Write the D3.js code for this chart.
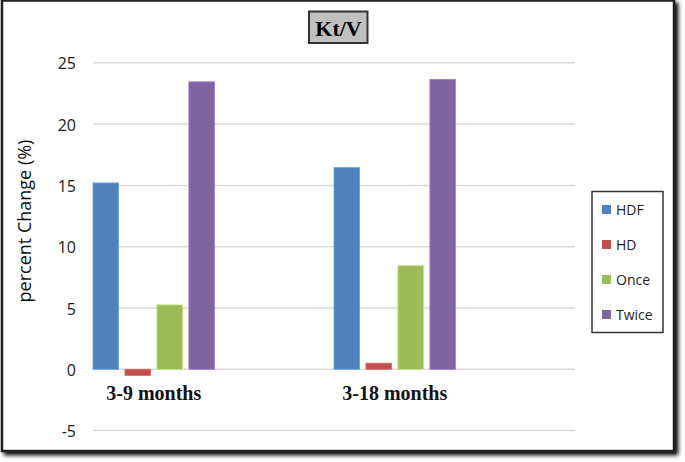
<!DOCTYPE html>
<html>
<head>
<meta charset="utf-8">
<script src="https://cdn.jsdelivr.net/npm/d3@7"></script>
<style>
  body { margin: 0; background: #fff; }
  svg { display: block; }
</style>
</head>
<body>
<svg id="chart" width="685" height="462"></svg>
<script>
// data
const categories = ['3-9 months', '3-18 months']
const seriesNames = ['HDF', 'HD', 'Once', 'Twice']
const hdf = [15.2, 16.45]
const hd = [-0.5, 0.5]
const once = [5.25, 8.45]
const twice = [23.45, 23.65]
const yTicks = [-5, 0, 5, 10, 15, 20, 25]
const colors = ['#4f81bd', '#c0504d', '#9bbb59', '#8064a2']

const seriesValues = [hdf, hd, once, twice]
const rows = categories.map((c, i) => ({
  cat: c,
  values: seriesNames.map((s, j) => ({ key: s, value: seriesValues[j][i] }))
}))

const svg = d3.select('#chart')

// outer frame with soft shadow
const defs = svg.append('defs')
const f = defs.append('filter').attr('id', 'shadow')
  .attr('x', '-5%').attr('y', '-5%').attr('width', '115%').attr('height', '115%')
f.append('feGaussianBlur').attr('in', 'SourceAlpha').attr('stdDeviation', 2)
f.append('feOffset').attr('dx', 3).attr('dy', 3).attr('result', 'b')
const m = f.append('feMerge')
m.append('feMergeNode').attr('in', 'b')
m.append('feMergeNode').attr('in', 'SourceGraphic')

svg.append('rect')
  .attr('x', 2).attr('y', 0.5).attr('width', 672).attr('height', 450.5)
  .attr('fill', '#fff').attr('stroke', '#22221a').attr('stroke-width', 2.5)
  .attr('filter', 'url(#shadow)')

const margin = { left: 93, right: 575 }

const y = d3.scaleLinear()
  .domain([-5, 25])
  .range([430.6, 62.8])

const x = d3.scaleBand()
  .domain(categories)
  .range([margin.left, margin.right])
  .padding(0)

const xs = d3.scaleBand()
  .domain(seriesNames)
  .range([0, x.bandwidth() * 0.504])
  .paddingInner(0.2)
  .paddingOuter(0)

const color = d3.scaleOrdinal().domain(seriesNames).range(colors)

// gridlines
svg.append('g')
  .selectAll('line')
  .data(yTicks)
  .enter()
  .append('line')
  .attr('x1', margin.left)
  .attr('x2', margin.right)
  .attr('y1', d => y(d))
  .attr('y2', d => y(d))
  .attr('stroke', '#d9d9d9')
  .attr('stroke-width', 1.5)

// y axis labels (plain hyphen for negatives, like the original)
const yAxis = svg.append('g')
  .attr('transform', 'translate(80,1)')
  .call(d3.axisLeft(y).tickValues(yTicks).tickSize(0).tickPadding(4)
    .tickFormat(d => String(d)))
yAxis.select('.domain').remove()
yAxis.selectAll('text')
  .attr('font-family', 'Open Sans, sans-serif')
  .attr('font-size', 16)
  .attr('fill', '#1a1a1a')

// bars
svg.append('g')
  .selectAll('g')
  .data(rows)
  .enter()
  .append('g')
  .attr('transform', d => 'translate(' + x(d.cat) + ',0)')
  .selectAll('rect')
  .data(d => d.values)
  .enter()
  .append('rect')
  .attr('x', d => xs(d.key))
  .attr('width', xs.bandwidth())
  .attr('y', d => y(Math.max(0, d.value)))
  .attr('height', d => Math.abs(y(d.value) - y(0)))
  .attr('fill', d => color(d.key))
  .attr('stroke', d => d3.color(color(d.key)).brighter(0.6))
  .attr('stroke-width', 0.8)

// category labels
svg.append('g')
  .selectAll('text')
  .data(categories)
  .enter()
  .append('text')
  .attr('x', d => x(d) + xs.range()[1] / 2)
  .attr('y', 400)
  .attr('text-anchor', 'middle')
  .attr('font-family', 'Liberation Serif, Times New Roman, serif')
  .attr('font-weight', 'bold')
  .attr('font-size', 20)
  .attr('fill', '#111')
  .text(d => d)

// y title
svg.append('text')
  .attr('transform', 'translate(31,221) rotate(-90)')
  .attr('text-anchor', 'middle')
  .attr('font-family', 'Open Sans, sans-serif')
  .attr('font-size', 18)
  .attr('fill', '#111')
  .text('percent Change (%)')

// title box
svg.append('rect')
  .attr('x', 309).attr('y', 11.5).attr('width', 58.5).attr('height', 31.5)
  .attr('fill', '#c0c0c0').attr('stroke', '#333').attr('stroke-width', 2)
svg.append('text')
  .attr('x', 338.5).attr('y', 35.5)
  .attr('text-anchor', 'middle')
  .attr('font-family', 'Liberation Serif, Times New Roman, serif')
  .attr('font-weight', 'bold')
  .attr('font-size', 22)
  .attr('fill', '#000')
  .text('Kt/V')

// legend
const legend = svg.append('g')
legend.append('rect')
  .attr('x', 592).attr('y', 191.5).attr('width', 71).attr('height', 141)
  .attr('fill', '#fff').attr('stroke', '#333').attr('stroke-width', 1.5)
const item = legend.selectAll('g.item')
  .data(seriesNames)
  .enter()
  .append('g')
  .attr('class', 'item')
  .attr('transform', (d, i) => 'translate(602,' + (209.5 + i * 35) + ')')
item.append('rect')
  .attr('x', 0).attr('y', -4.5).attr('width', 9).attr('height', 9)
  .attr('fill', d => color(d))
item.append('text')
  .attr('x', 14).attr('y', 5)
  .attr('font-family', 'Open Sans, sans-serif')
  .attr('font-size', 14)
  .attr('fill', '#222')
  .text(d => d)
</script>
</body>
</html>
